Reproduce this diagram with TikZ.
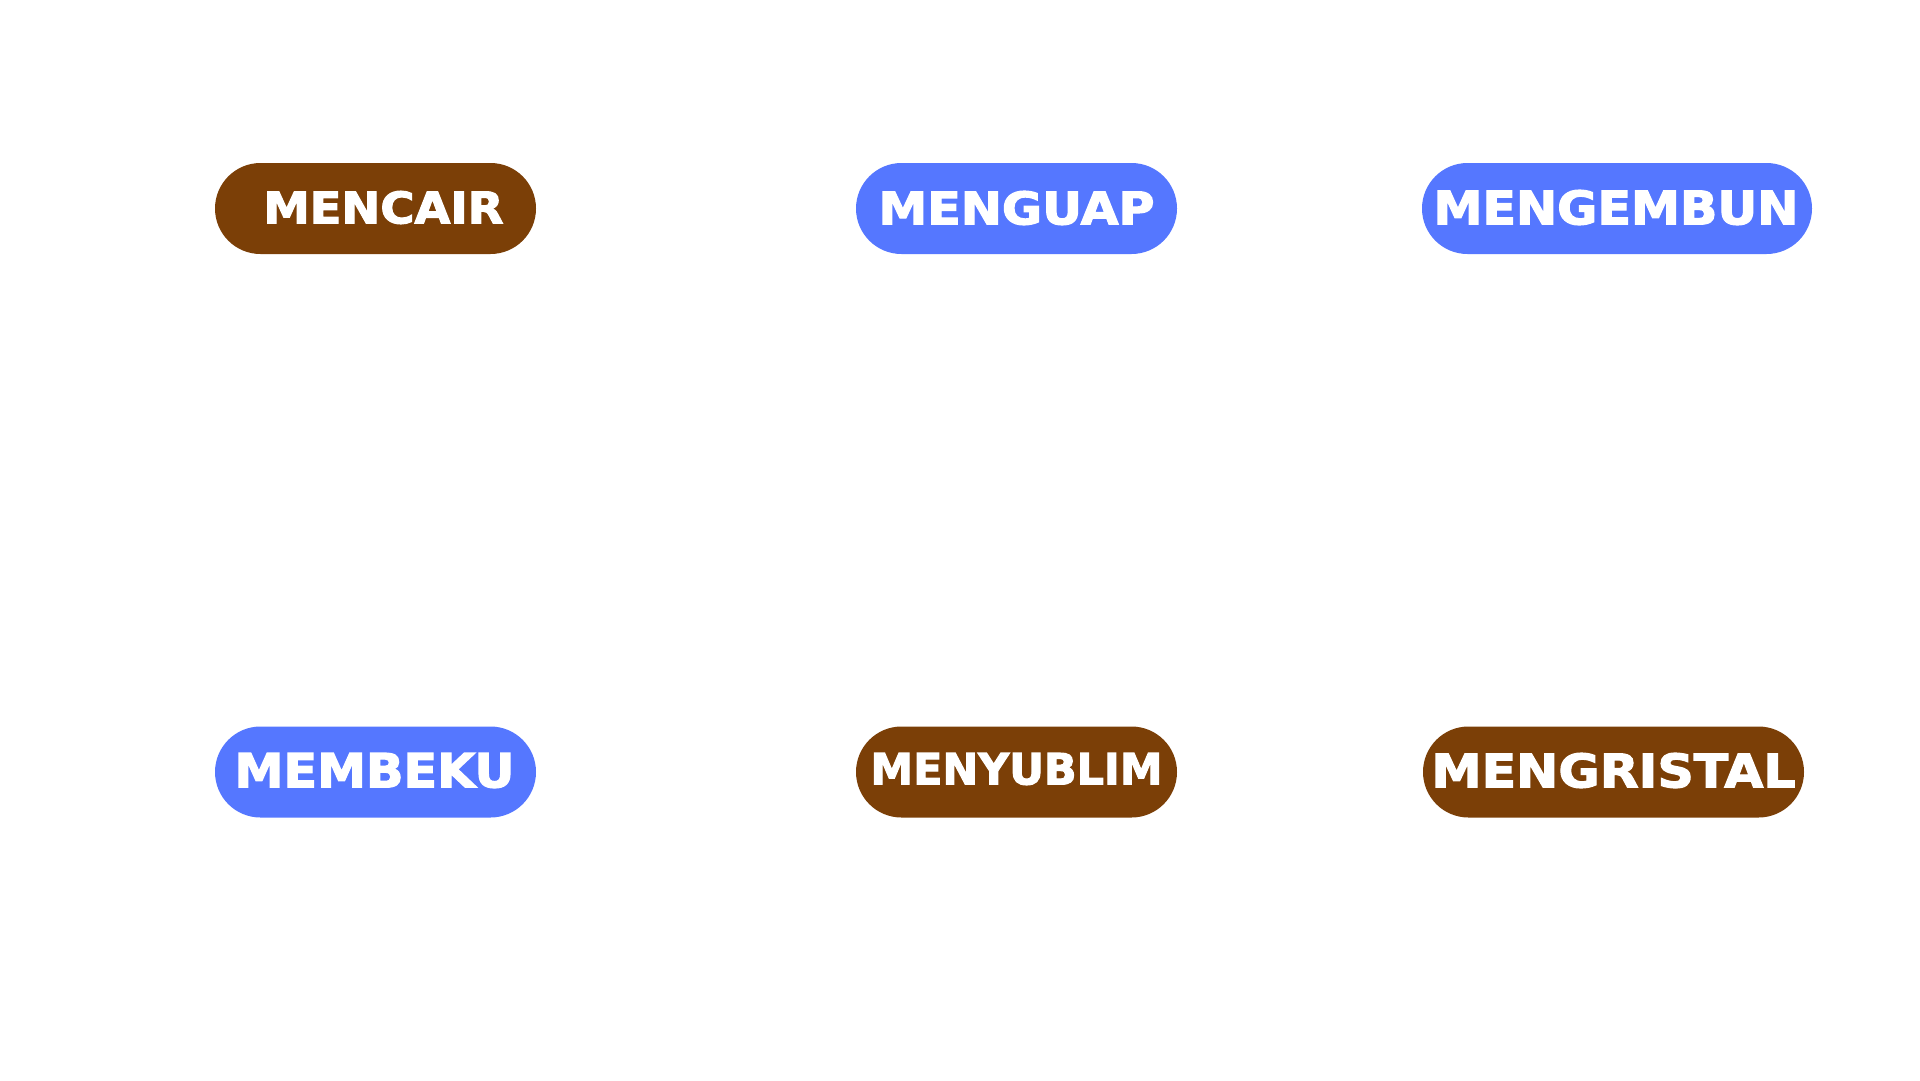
\documentclass[tikz,border=0pt]{standalone}
\usepackage{fontspec}
\usepackage{graphicx}
\newfontfamily\pillfont{DejaVu Sans}[BoldFeatures={FakeBold=2.5}]
\definecolor{pillbrown}{HTML}{7B3F07}
\definecolor{pillblue}{HTML}{5577FF}
\newcommand{\pilltext}[3]{\resizebox*{#1pt}{#2pt}{\pillfont\bfseries\fontsize{46}{46}\selectfont #3}}
\tikzset{
  pill/.style={shape=rectangle, draw=none, inner sep=0pt, minimum height=91pt, rounded corners=45.5pt},
  brownpill/.style={pill, fill=pillbrown},
  bluepill/.style={pill, fill=pillblue},
  pilllabel/.style={inner sep=0pt, text=white, anchor=center}
}
\begin{document}
\begin{tikzpicture}[x=1pt,y=-1pt]
\useasboundingbox[fill=white] (0,0) rectangle (1920,1080);
% top row
\node[brownpill, minimum width=321pt] (mencair) at (375.5,208.5) {};
\node[pilllabel] (mencair-t) at (383.5,207.5) {\pilltext{240}{33}{MENCAIR}};
\node[bluepill, minimum width=321pt] (menguap) at (1016.5,208.5) {};
\node[pilllabel] (menguap-t) at (1016.5,208) {\pilltext{276}{34}{MENGUAP}};
\node[bluepill, minimum width=390pt] (mengembun) at (1617,208.5) {};
\node[pilllabel] (mengembun-t) at (1616,207.5) {\pilltext{365}{35}{MENGEMBUN}};
% bottom row
\node[bluepill, minimum width=321pt] (membeku) at (375.5,772) {};
\node[pilllabel] (membeku-t) at (374.5,770.5) {\pilltext{280}{35}{MEMBEKU}};
\node[brownpill, minimum width=321pt] (menyublim) at (1016.5,772) {};
\node[pilllabel] (menyublim-t) at (1016.5,769) {\pilltext{292}{32}{MENYUBLIM}};
\node[brownpill, minimum width=381pt] (mengristal) at (1613.5,772) {};
\node[pilllabel] (mengristal-t) at (1613.5,770.5) {\pilltext{364}{35}{MENGRISTAL}};
\end{tikzpicture}
\end{document}
